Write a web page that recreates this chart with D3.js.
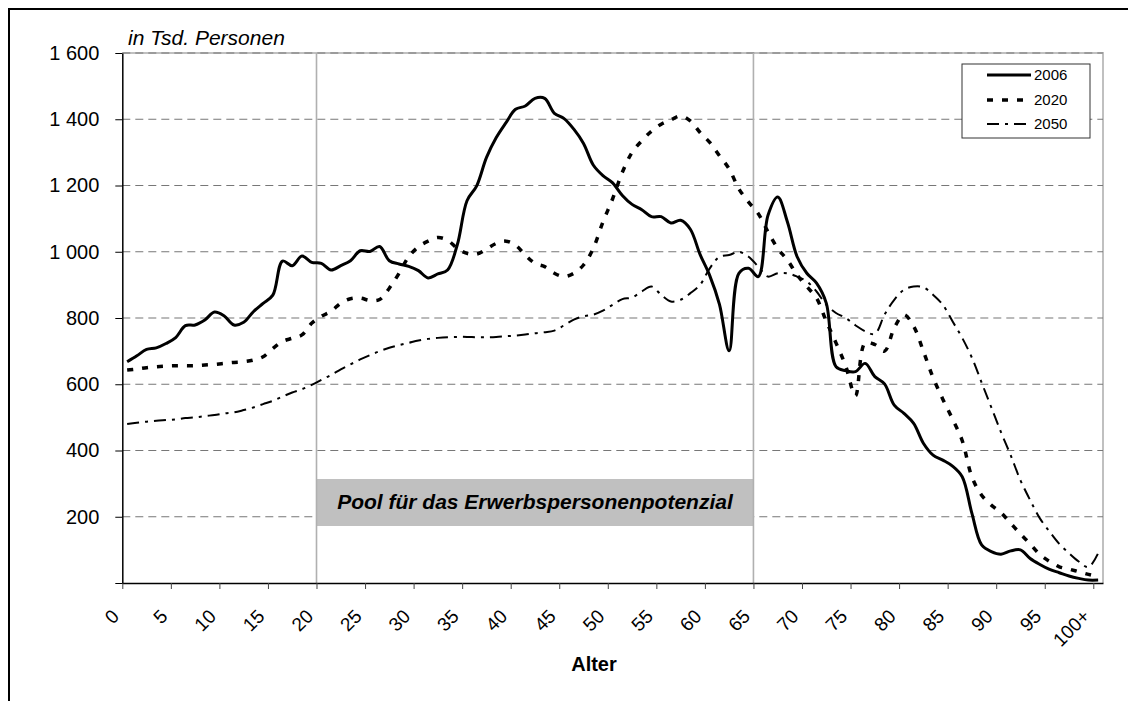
<!DOCTYPE html>
<html>
<head>
<meta charset="utf-8">
<script src="https://cdnjs.cloudflare.com/ajax/libs/d3/7.8.5/d3.min.js"></script>
<style>
    body { margin: 0; background: #fff; }
    svg { display: block; font-family: "Liberation Sans", Arial, sans-serif; }
</style>
</head>
<body>
<div id="graphContainer"></div>
<script>
"use strict";

// categories on the x axis (single years of age)
const ageLabels = d3.range(0, 100).map(String).concat(["100+"]);
const shownAges = ["0", "5", "10", "15", "20", "25", "30", "35", "40", "45", "50",
    "55", "60", "65", "70", "75", "80", "85", "90", "95", "100+"];
const yTicks = [0, 200, 400, 600, 800, 1000, 1200, 1400, 1600];
const seriesNames = ["2006", "2020", "2050"];

// population in thousand persons, age 0 ... 100+
const pop2006 = [668, 686, 705, 710, 723, 741, 777, 779, 794, 818,
    806, 779, 787, 819, 844, 869, 972, 958, 987, 968,
    965, 945, 958, 973, 1003, 1001, 1016, 973, 963, 956,
    943, 921, 933, 945, 1021, 1154, 1199, 1284, 1344, 1389,
    1430, 1440, 1463, 1463, 1418, 1402, 1370, 1327, 1262, 1230,
    1208, 1170, 1143, 1127, 1106, 1106, 1087, 1095, 1068, 992,
    928, 841, 701, 935, 950, 925, 1110, 1165, 1090, 985,
    935, 905, 845, 653, 641, 638, 663, 623, 601, 537,
    512, 482, 422, 386, 371, 353, 321, 210, 115, 95,
    87, 97, 100, 74, 56, 41, 31, 21, 14, 9,
    9];
const pop2020 = [643, 646, 650, 653, 655, 656, 656, 656, 658, 660,
    663, 666, 668, 673, 683, 708, 729, 739, 749, 784,
    805, 820, 845, 858, 860, 853, 856, 890, 935, 985,
    1015, 1032, 1043, 1035, 1010, 995, 993, 1008, 1025, 1032,
    1020, 990, 965, 955, 935, 925, 935, 960, 1010, 1090,
    1160, 1240, 1300, 1335, 1364, 1385, 1398, 1410, 1395, 1360,
    1330, 1290, 1250, 1190, 1150, 1115, 1060, 1010, 975, 930,
    895, 860, 790, 725, 655, 565, 725, 720, 700, 770,
    810, 775, 700, 620, 555, 495, 430, 320, 265, 235,
    212, 180, 148, 118, 86, 65, 49, 42, 34, 26,
    19];
const pop2050 = [480, 484, 487, 490, 492, 494, 498, 500, 504, 507,
    512, 515, 522, 530, 540, 550, 563, 575, 585, 598,
    613, 628, 645, 660, 675, 688, 700, 710, 718, 725,
    732, 737, 740, 742, 743, 743, 742, 742, 743, 745,
    747, 750, 754, 757, 762, 778, 795, 805, 810, 822,
    840, 857, 862, 880, 895, 870, 850, 855, 875, 900,
    950, 985, 990, 1000, 985, 955, 925, 935, 935, 925,
    910, 880, 840, 815, 800, 778, 760, 752, 810, 855,
    885, 895, 893, 870, 840, 790, 740, 680, 605, 530,
    455, 385, 310, 250, 195, 155, 118, 90, 65, 48,
    90];

const poolFrom = "20";
const poolTo = "65";
const poolLabel = "Pool für das Erwerbspersonenpotenzial";

(function () {
    const measurements = {
        width: 1128,
        height: 701,
        left: 122.3,
        right: 1103,
        top: 53,
        bottom: 583
    }

    const lineStyles = {
        "2006": { width: 3, dash: null },
        "2020": { width: 3.5, dash: "6,9" },
        "2050": { width: 2, dash: "12,6,3,6" }
    }

    const svgContainer = d3.select('#graphContainer').append("svg")
        .attr('width', measurements.width)
        .attr('height', measurements.height)

    makeChart()

    function makeChart() {
        let scaleX = d3.scaleBand()
            .domain(ageLabels)
            .range([measurements.left, measurements.right])
        // same width, but to put tick marks on the category borders
        let scaleEdge = d3.scaleLinear()
            .domain([0, ageLabels.length])
            .range([measurements.left, measurements.right])
        let scaleY = d3.scaleLinear()
            .domain([0, 1600])
            .range([measurements.bottom, measurements.top])

        drawFrame()
        drawGrid(scaleEdge, scaleY)
        drawPool(scaleEdge)
        plotData(scaleX, scaleY)
        drawAxes(scaleX, scaleEdge, scaleY)
        drawLegend()
    }

    function drawFrame() {
        // outer border only shows top and left
        svgContainer.append('path')
            .attr('d', `M9,${measurements.height} V9 H${measurements.width}`)
            .attr('fill', 'none')
            .attr('stroke', '#000')
            .attr('stroke-width', 2)

        svgContainer.append('path')
            .attr('d', `M${measurements.left},${measurements.top} H${measurements.right} V${measurements.bottom}`)
            .attr('fill', 'none')
            .attr('stroke', '#c0c0c0')
            .attr('stroke-width', 2)

        svgContainer.append('text')
            .attr('x', 128)
            .attr('y', 45)
            .attr('font-size', 21)
            .attr('font-style', 'italic')
            .text('in Tsd. Personen')
    }

    function drawGrid(scaleEdge, scaleY) {
        svgContainer.append('g')
            .selectAll('line')
            .data(yTicks.filter(t => t > 0))
            .enter()
            .append('line')
            .attr('x1', measurements.left)
            .attr('x2', measurements.right)
            .attr('y1', d => scaleY(d))
            .attr('y2', d => scaleY(d))
            .attr('stroke', '#777')
            .attr('stroke-width', 1.2)
            .attr('stroke-dasharray', '8,5')
    }

    function drawPool(scaleEdge) {
        const i0 = ageLabels.indexOf(poolFrom)
        const i1 = ageLabels.indexOf(poolTo)
        const x0 = scaleEdge(i0)
        const x1 = scaleEdge(i1)

        svgContainer.append('rect')
            .attr('x', x0)
            .attr('y', 479)
            .attr('width', x1 - x0)
            .attr('height', 47)
            .attr('fill', '#c0c0c0')

        svgContainer.append('text')
            .attr('x', (x0 + x1) / 2)
            .attr('y', 509)
            .attr('text-anchor', 'middle')
            .attr('font-size', 21)
            .attr('font-weight', 'bold')
            .attr('font-style', 'italic')
            .text(poolLabel)

        svgContainer.append('g')
            .selectAll('line')
            .data([x0, x1])
            .enter()
            .append('line')
            .attr('x1', d => d)
            .attr('x2', d => d)
            .attr('y1', measurements.top)
            .attr('y2', measurements.bottom)
            .attr('stroke', '#b0b0b0')
            .attr('stroke-width', 1.6)
    }

    function plotData(scaleX, scaleY) {
        const half = scaleX.bandwidth() / 2
        const line = d3.line()
            .x((d, i) => scaleX(ageLabels[i]) + half)
            .y(d => scaleY(d))
            .curve(d3.curveCatmullRom.alpha(0.5))

        const series = [pop2050, pop2020, pop2006]
        const names = ["2050", "2020", "2006"]

        series.forEach((values, k) => {
            const style = lineStyles[names[k]]
            svgContainer.append('path')
                .datum(values)
                .attr('d', line)
                .attr('fill', 'none')
                .attr('stroke', '#000')
                .attr('stroke-width', style.width)
                .attr('stroke-dasharray', style.dash)
                .attr('stroke-linejoin', 'round')
        })
    }

    function drawAxes(scaleX, scaleEdge, scaleY) {
        const fmt = d3.formatLocale({ decimal: ",", thousands: " ", grouping: [3], currency: ["", ""] }).format(",")

        // tick marks between the categories
        const xTicks = svgContainer.append('g')
            .attr('transform', `translate(0,${measurements.bottom})`)
            .call(d3.axisBottom(scaleEdge)
                .tickValues(d3.range(0, ageLabels.length, 5))
                .tickSize(6)
                .tickSizeOuter(0)
                .tickFormat(""))
        xTicks.select('.domain').attr('stroke', '#000').attr('stroke-width', 1.5)
        xTicks.selectAll('.tick line').attr('stroke', '#444')

        // rotated labels centered on the categories
        const xLabels = svgContainer.append('g')
            .attr('transform', `translate(0,${measurements.bottom})`)
            .call(d3.axisBottom(scaleX)
                .tickValues(shownAges)
                .tickSize(0))
        xLabels.select('.domain').remove()
        xLabels.selectAll('text')
            .attr('y', 0)
            .attr('dy', 0)
            .attr('transform', 'translate(-7,34.5) rotate(-45)')
            .style('text-anchor', 'end')
            .attr('font-size', 19)
            .attr('font-family', '"Liberation Sans", Arial, sans-serif')
            .attr('fill', '#000')

        const yAxis = svgContainer.append('g')
            .attr('transform', `translate(${measurements.left},0)`)
            .call(d3.axisLeft(scaleY)
                .tickValues(yTicks)
                .tickSize(7)
                .tickSizeOuter(0)
                .tickPadding(16)
                .tickFormat(d => d === 0 ? "" : fmt(d)))
        yAxis.select('.domain').attr('stroke', '#000').attr('stroke-width', 1.5)
        yAxis.selectAll('.tick line').attr('stroke', '#000')
        yAxis.selectAll('text')
            .attr('font-size', 20)
            .attr('font-family', '"Liberation Sans", Arial, sans-serif')
            .attr('fill', '#000')

        svgContainer.append('text')
            .attr('x', 594)
            .attr('y', 671)
            .attr('text-anchor', 'middle')
            .attr('font-size', 20)
            .attr('font-weight', 'bold')
            .text('Alter')
    }

    function drawLegend() {
        const legend = svgContainer.append('g')
            .attr('transform', 'translate(962,64)')

        legend.append('rect')
            .attr('width', 128)
            .attr('height', 74)
            .attr('fill', '#fff')
            .attr('stroke', '#333')
            .attr('stroke-width', 1)

        const rows = [11, 36, 60]
        seriesNames.forEach((name, i) => {
            const style = lineStyles[name]
            legend.append('line')
                .attr('x1', 25)
                .attr('x2', 69)
                .attr('y1', rows[i])
                .attr('y2', rows[i])
                .attr('stroke', '#000')
                .attr('stroke-width', style.width)
                .attr('stroke-dasharray', style.dash)
            legend.append('text')
                .attr('x', 72)
                .attr('y', rows[i])
                .attr('dy', '0.35em')
                .attr('font-size', 15)
                .text(name)
        })
    }
})()
</script>
</body>
</html>
